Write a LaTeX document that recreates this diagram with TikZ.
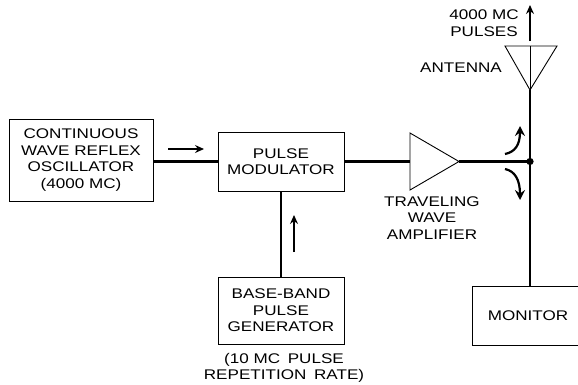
\documentclass[tikz,border=0pt]{standalone}
\usepackage{fontspec}
\setmainfont[FakeStretch=1.22]{Liberation Sans}
\usetikzlibrary{arrows.meta}
\tikzset{
  box/.style={draw,line width=0.9pt,inner sep=0pt,align=center,font=\lbl},
  lab/.style={inner sep=0pt,align=center,font=\lbl},
  wire/.style={line width=2.3pt},
  thin wire/.style={line width=0.9pt},
  flow/.style={line width=1.7pt,-{Stealth[length=9pt,width=8pt,inset=3pt]}},
  flowcurve/.style={line width=2.2pt,-{Stealth[length=10pt,width=10pt,inset=3.5pt]}}
}
\newcommand{\lbl}{\fontsize{14}{16.4}\selectfont}
\begin{document}
\begin{tikzpicture}[x=1pt,y=-1pt]
\useasboundingbox (0,0) rectangle (578,384);
\clip (0,0) rectangle (578,384);
\node[box,minimum width=144pt,minimum height=82pt] (osc) at (81,160) {CONTINUOUS\\WAVE REFLEX\\OSCILLATOR\\(4000 MC)};
\node[box,minimum width=126pt,minimum height=59pt] (pm) at (281,161.5) {PULSE\\MODULATOR};
\node[box,minimum width=126pt,minimum height=67pt] (gen) at (281,310.5) {BASE-BAND\\PULSE\\GENERATOR};
\node[box,minimum width=112pt,minimum height=59pt] (mon) at (528,315.5) {MONITOR};
\node[lab] (amplabel) at (432,218) {TRAVELING\\WAVE\\AMPLIFIER};
\node[lab] (replabel) at (284,368) {(10 MC\hspace{3pt} PULSE\\REPETITION\hspace{3pt} RATE)};
\node[lab] (antlabel) at (461,68) {ANTENNA};
\node[lab] (pulselabel) at (484,23) {4000 MC\\PULSES};
% amplifier
\coordinate (ampin) at (410,161.5);
\coordinate (ampa) at (410,133);
\coordinate (ampb) at (410,190);
\coordinate (amptip) at (459,161.5);
\draw[thin wire,line join=miter] (ampa) -- (ampb) -- (amptip) -- cycle;
% antenna
\coordinate (anta) at (505,46);
\coordinate (antb) at (557,46);
\coordinate (antmid) at (530,46);
\coordinate (anttip) at (530,90);
\draw[thin wire] (anta) -- (antb) -- (anttip) -- cycle;
\draw[line width=0.6pt] (antmid) -- (anttip);
% wires
\coordinate (junction) at (530,161.5);
\draw[wire] (osc.east |- pm.west) -- (pm.west);
\draw[wire] (pm.east) -- (ampin);
\draw[wire] (pm.south) -- (gen.north);
\draw[wire] (amptip) -- (junction);
\draw[wire] (anttip) -- (junction |- mon.north);
\fill (junction) circle (3.6pt);
% flow arrows
\coordinate (a1s) at (168,149);
\coordinate (a1e) at (204,149);
\draw[flow] (a1s) -- (a1e);
\coordinate (a2s) at (294,252);
\coordinate (a2e) at (294,215);
\draw[flow] (a2s) -- (a2e);
\coordinate (a3s) at (530,41);
\coordinate (a3e) at (530,5);
\draw[flow] (a3s) -- (a3e);
\coordinate (c1s) at (505,154);
\coordinate (c1e) at (520,126);
\draw[flowcurve] (c1s) .. controls (515,152) and (520,145) .. (c1e);
\coordinate (c2s) at (505,169);
\coordinate (c2e) at (520,200);
\draw[flowcurve] (c2s) .. controls (515,171) and (520,180) .. (c2e);
\end{tikzpicture}
\end{document}
